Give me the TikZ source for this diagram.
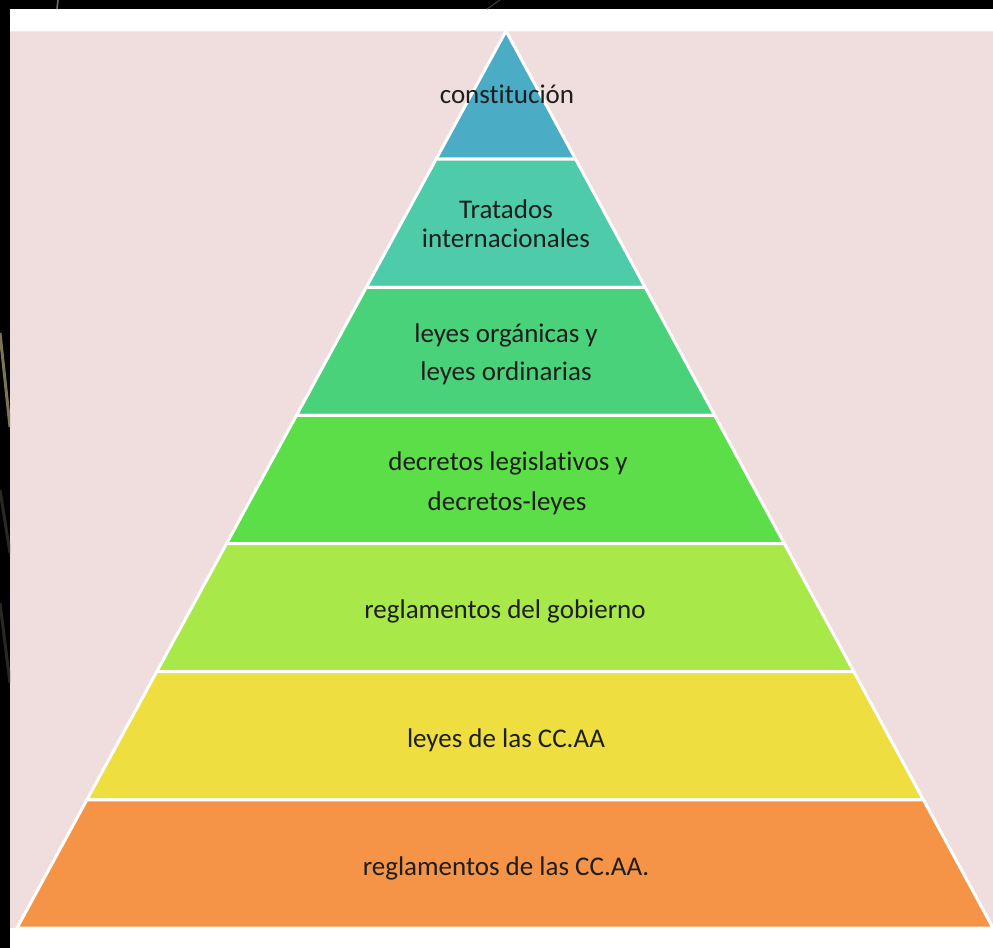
\documentclass[tikz,border=0pt]{standalone}
\usepackage{fontspec}
\setmainfont{Carlito}[Ligatures={NoCommon}]
\usetikzlibrary{calc}
\definecolor{bgpink}{RGB}{240,221,221}
\definecolor{cA}{RGB}{75,172,198}
\definecolor{cB}{RGB}{78,203,168}
\definecolor{cC}{RGB}{74,210,122}
\definecolor{cD}{RGB}{92,222,72}
\definecolor{cE}{RGB}{168,232,72}
\definecolor{cF}{RGB}{238,222,64}
\definecolor{cG}{RGB}{245,148,70}
\definecolor{tanline}{RGB}{125,116,88}
\definecolor{darkline}{RGB}{42,40,32}
\definecolor{txt}{RGB}{30,30,30}
\begin{document}
\begin{tikzpicture}[x=1bp,y=-1bp,
  tier/.style={draw=white,line width=3bp,line join=miter},
  lbl/.style={anchor=base,inner sep=0pt,text=txt,font=\fontsize{27bp}{32bp}\selectfont}]
\useasboundingbox (0,0) rectangle (993,948);
% background
\fill[black] (0,0) rectangle (993,948);
\fill[white] (10,9) rectangle (993,948);
\fill[bgpink] (10,31) rectangle (993,928);
\draw[black!8,line width=0.8bp] (10,31) -- (993,31);
% decorative lines in the dark margin
\begin{scope}
\clip (0,0) rectangle (10,948);
\draw[tanline,line width=3bp] (0,333) -- (10,427);
\draw[darkline,line width=3bp] (0,490) -- (10,553);
\draw[darkline,line width=3bp] (0,603) -- (10,683);
\end{scope}
\begin{scope}
\clip (0,0) rectangle (993,9);
\draw[tanline,line width=1.5bp] (58,0) -- (57,9);
\draw[darkline!70!gray,line width=1bp] (500,0) -- (487,9);
\end{scope}
% pyramid corners
\coordinate (A) at (506,31);
\coordinate (BL) at (17,928);
\coordinate (BR) at (993,928);
\foreach \k in {0,...,7}{
  \coordinate (L\k) at ($(A)!\k/7!(BL)$);
  \coordinate (R\k) at ($(A)!\k/7!(BR)$);
}
\filldraw[tier,fill=cA] (A) -- (R1) -- (L1) -- cycle;
\filldraw[tier,fill=cB] (L1) -- (R1) -- (R2) -- (L2) -- cycle;
\filldraw[tier,fill=cC] (L2) -- (R2) -- (R3) -- (L3) -- cycle;
\filldraw[tier,fill=cD] (L3) -- (R3) -- (R4) -- (L4) -- cycle;
\filldraw[tier,fill=cE] (L4) -- (R4) -- (R5) -- (L5) -- cycle;
\filldraw[tier,fill=cF] (L5) -- (R5) -- (R6) -- (L6) -- cycle;
\filldraw[tier,fill=cG] (L6) -- (R6) -- (R7) -- (L7) -- cycle;
% labels
\node[lbl] (t1) at (507,103) {constitución};
\node[lbl] (t2a) at (506,218) {Tratados};
\node[lbl] (t2b) at (506,247) {internacionales};
\node[lbl] (t3a) at (506,342) {leyes orgánicas y};
\node[lbl] (t3b) at (506,380) {leyes ordinarias};
\node[lbl] (t4a) at (508,470) {decretos legislativos y};
\node[lbl] (t4b) at (507,510) {decretos-leyes};
\node[lbl] (t5) at (505,618) {reglamentos del gobierno};
\node[lbl] (t6) at (506,747) {leyes de las CC.AA};
\node[lbl] (t7) at (506,875) {reglamentos de las CC.AA.};
\end{tikzpicture}
\end{document}
